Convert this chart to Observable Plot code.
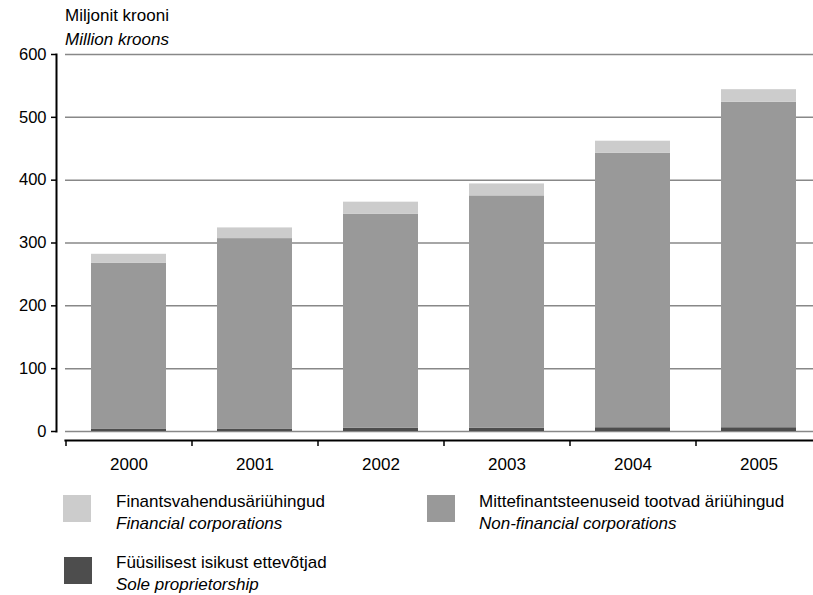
<!DOCTYPE html>
<html><head><meta charset="utf-8">
<script src="https://cdn.jsdelivr.net/npm/d3@7"></script>
<script src="https://cdn.jsdelivr.net/npm/@observablehq/plot@0.6"></script>
<style>
body{margin:0;background:#fff;font-family:Arial,"Liberation Sans",sans-serif;width:813px;height:595px;overflow:hidden;position:relative;color:#000}
#title{position:absolute;left:65px;top:4px;font-size:17px;line-height:24px}
#chart{position:absolute;left:0;top:0}
.lg{position:absolute;font-size:17px;line-height:22px}
.sw{position:absolute;width:28px;height:27px}
.it{font-style:italic}
</style></head><body>
<div id="chart"></div>
<div id="title"><div>Miljonit krooni</div><div class="it">Million kroons</div></div>
<div id="legend"></div>
<script>
const years = ["2000","2001","2002","2003","2004","2005"];
const sole = [4,4,5,5,6,6];
const nonFinancial = [264,303,341,370,437,518];
const financial = [14,17,19,19,19,20];
const seriesKeys = ["sole","nonfin","fin"];
const seriesEt = ["Füüsilisest isikust ettevõtjad","Mittefinantsteenuseid tootvad äriühingud","Finantsvahendusäriühingud"];
const seriesEn = ["Sole proprietorship","Non-financial corporations","Financial corporations"];
const colors = ["#4d4d4d","#999999","#cccccc"];
const yTicks = [0,100,200,300,400,500,600];

const values = [sole, nonFinancial, financial];
const data = [];
years.forEach((y,i)=>{ seriesKeys.forEach((s,j)=>data.push({year:y, series:s, value:values[j][i]})); });

const xRange = [65, 821];
const step = (xRange[1]-xRange[0])/years.length;

const plot = Plot.plot({
  width: 813, height: 480,
  marginLeft: 65, marginRight: 0, marginTop: 54, marginBottom: 49,
  style: {fontFamily: "Arial, 'Liberation Sans', sans-serif", fontSize: "17px", color: "#000", background: "transparent", overflow: "visible"},
  x: {domain: years, range: xRange, paddingInner: 0.405, paddingOuter: 0.2025, axis: null, label: null},
  y: {domain: [0, 600], axis: null, label: null},
  color: {domain: seriesKeys, range: colors},
  marks: [
    Plot.gridY(yTicks, {stroke: "#888", strokeOpacity: 1, strokeWidth: 1.5}),
    Plot.barY(data, {x: "year", y: "value", fill: "series"}),
    Plot.axisY(yTicks, {tickSize: 5, tickPadding: 5, dx: -9, stroke: "#000", strokeWidth: 1.5, fontSize: 16.5, label: null}),
    Plot.frame({anchor: "left", dx: -9, stroke: "#000", strokeWidth: 2}),
    Plot.frame({anchor: "bottom", dy: 9, stroke: "#000", strokeWidth: 2.2}),
    Plot.axisX({tickSize: 6, dx: -step/2, dy: 9, text: null, stroke: "#000", strokeWidth: 1.5, label: null}),
    Plot.axisX({tickSize: 0, tickPadding: 26, fontSize: 17, label: null})
  ]
});
document.getElementById("chart").appendChild(plot);

const legendPos = [
  {i: 2, sx: 63, sy: 495, tx: 116, ty: 491},
  {i: 1, sx: 427, sy: 495, tx: 479, ty: 491},
  {i: 0, sx: 64, sy: 557, tx: 116, ty: 552}
];
const lg = document.getElementById("legend");
legendPos.forEach(p => {
  const sw = document.createElement("div");
  sw.className = "sw"; sw.style.left = p.sx + "px"; sw.style.top = p.sy + "px"; sw.style.background = colors[p.i];
  lg.appendChild(sw);
  const t = document.createElement("div");
  t.className = "lg"; t.style.left = p.tx + "px"; t.style.top = p.ty + "px";
  t.innerHTML = `<div>${seriesEt[p.i]}</div><div class="it">${seriesEn[p.i]}</div>`;
  lg.appendChild(t);
});
</script>
</body></html>
